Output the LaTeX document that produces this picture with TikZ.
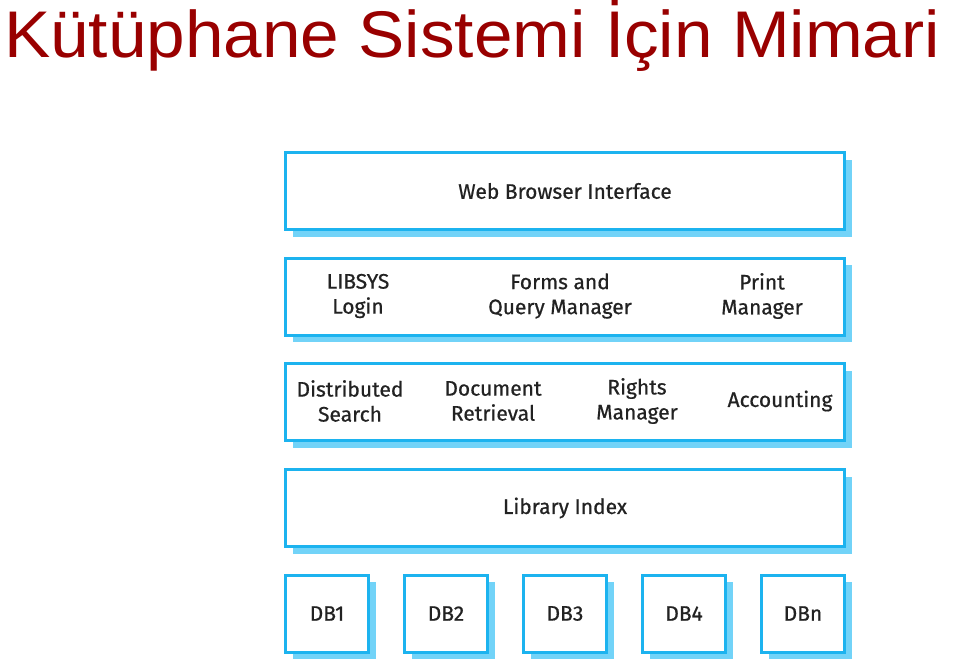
\documentclass[tikz,border=0pt]{standalone}
\usepackage{fontspec}
\setmainfont{Fira Sans}[FakeBold=0.6]
\newfontfamily\titlefont{Liberation Sans}
\usetikzlibrary{shadows}

\definecolor{boxblue}{HTML}{1CB3EF}
\definecolor{shadeblue}{HTML}{72D3F8}
\definecolor{titlered}{HTML}{990000}
\definecolor{labelgray}{HTML}{222222}

\tikzset{
  layer/.style={draw=boxblue, line width=3pt, fill=white, minimum width=559pt,
    minimum height=77pt, inner sep=0pt,
    drop shadow={shadow xshift=7pt, shadow yshift=-7pt, fill=shadeblue, opacity=1}},
  dbbox/.style={layer, minimum width=83pt},
  lbl/.style={text=labelgray, align=center, inner sep=0pt,
    font=\fontsize{21}{25}\selectfont}
}

\begin{document}
\begin{tikzpicture}[x=1pt, y=-1pt]
  \useasboundingbox (0,0) rectangle (957,669);

  % Title
  \node[anchor=base west, text=titlered, inner sep=0pt,
    font=\titlefont\fontsize{66}{70}\selectfont] (title) at (4,57)
    {\scalebox{1.05}[1]{Kütüphane Sistemi İçin Mimari}};

  % Layers
  \node[layer] (web) at (565,191) {};
  \node[layer] (forms) at (565,296.5) {};
  \node[layer] (services) at (565,402) {};
  \node[layer] (index) at (565,508) {};

  % Web browser layer
  \node[lbl] (webtxt) at (web) {Web Browser Interface};

  % Login, forms, print
  \node[lbl] (login) at (358,296) {LIBSYS\\Login};
  \node[lbl] (query) at (560,296) {Forms and\\Query Manager};
  \node[lbl] (print) at (762,296) {Print\\Manager};

  % Search, retrieval, rights, accounting
  \node[lbl] (search) at (350,401) {Distributed\\Search};
  \node[lbl] (retrieval) at (493,401) {Document\\Retrieval};
  \node[lbl] (rights) at (637,401) {Rights\\Manager};
  \node[lbl] (accounting) at (780,401) {Accounting};

  % Index
  \node[lbl] (indextxt) at (index) {Library Index};

  % Databases
  \foreach \name/\x in {DB1/327, DB2/446, DB3/565, DB4/684, DBn/803}
    \node[dbbox] (\name) at (\x,613.5) {};
  \foreach \name in {DB1, DB2, DB3, DB4, DBn}
    \node[lbl] at (\name) {\name};
\end{tikzpicture}
\end{document}
